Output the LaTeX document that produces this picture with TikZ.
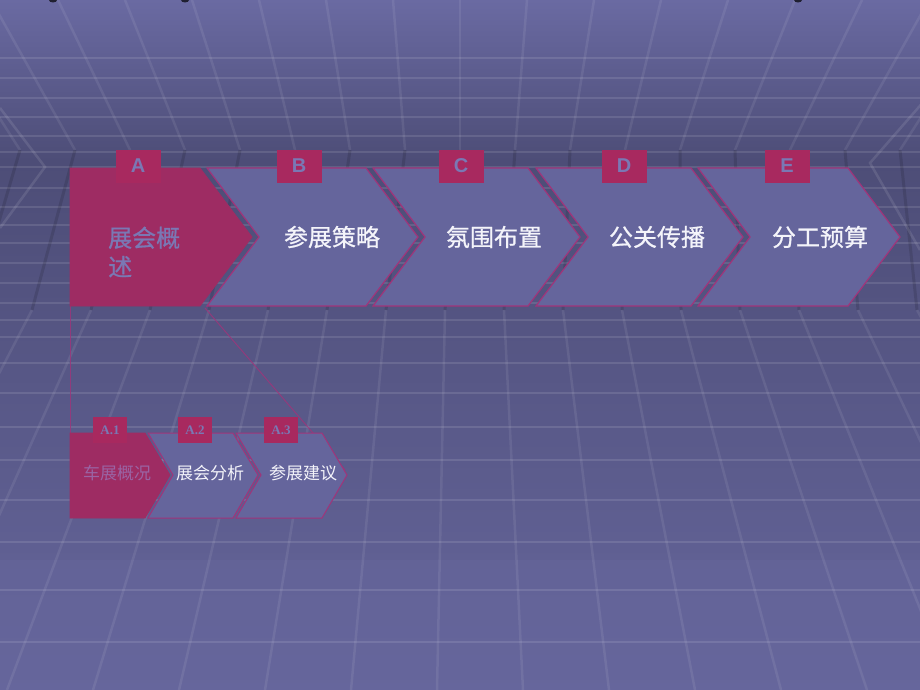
\documentclass[tikz,border=0pt]{standalone}
\usepackage{fontspec}
\setmainfont{Liberation Sans}
\newfontfamily\cjk{Noto Sans CJK SC}
\newfontfamily\cjkm[FakeBold=0.8]{Noto Sans CJK SC}
\newfontfamily\serifb{Liberation Serif}
\begin{document}
\begin{tikzpicture}[x=1pt,y=-1pt]
\definecolor{bgtop}{HTML}{6A6AA2}
\definecolor{bgmid}{HTML}{4D4D77}
\definecolor{bglow}{HTML}{66669C}
\definecolor{mag}{HTML}{9E2C63}
\definecolor{magbox}{HTML}{A8295F}
\definecolor{chevfill}{HTML}{65659C}
\definecolor{chevline}{HTML}{A0347A}
\definecolor{lav}{HTML}{7A78B4}
\definecolor{txtw}{HTML}{F4F4FA}
\definecolor{a1txt}{HTML}{9A64A4}
\tikzset{
  bigchev/.style={fill=chevfill,draw=chevline,line width=1.2pt,line join=miter},
  redchev/.style={fill=mag,draw=mag,line width=0.8pt},
  labbox/.style={fill=magbox,minimum width=45pt,minimum height=33pt,inner sep=0pt,
     text=lav,font=\bfseries\fontsize{20}{20}\selectfont},
  smallbox/.style={fill=magbox,minimum width=34pt,minimum height=26pt,inner sep=0pt,
     text=lav,font=\serifb\bfseries\fontsize{13}{13}\selectfont},
  bigtxt/.style={text=txtw,font=\cjkm\fontsize{24}{24}\selectfont,inner sep=0pt},
  smalltxt/.style={text=txtw,font=\cjk\fontsize{17}{17}\selectfont,inner sep=0pt},
  hline/.style={white,opacity=0.11,line width=1.6pt},
  vlight/.style={white,opacity=0.08,line width=2.5pt},
  vdark/.style={black,opacity=0.12,line width=3pt},
  callout/.style={chevline,line width=1pt,opacity=0.8}
}
\useasboundingbox (0,0) rectangle (920,690);
% background
\shade[top color=bgtop,bottom color=bgmid] (0,0) rectangle (920,160);
\shade[top color=bgmid,bottom color=bglow] (0,160) rectangle (920,690);
\fill[bglow,opacity=0.5] (0,560) rectangle (920,690);
% horizontal grid lines
\foreach \yy in {58,78,98,117,136,152,167,188,207,225,243,263,283,303,320,337,363,393,427,460,500,542,590,642}
  \draw[hline] (0,\yy) -- (920,\yy);
% converging grid lines
\foreach \n in {-8,...,8}{
  \draw[vlight] (460+67*\n,0) -- (460+55*\n,150);
  \draw[vdark] (460+55*\n,150) -- (445+59*\n,310);
  \draw[vlight] (445+59*\n,310) -- (437+86*\n,690);
}
% side wall chevrons
\draw[white,opacity=0.1,line width=2.5pt] (0,108) -- (45,167) -- (0,228);
\draw[white,opacity=0.1,line width=2.5pt] (925,100) -- (870,163) -- (920,250);
% small dark marks at top edge
\fill[black!70!bgtop] (53,0) ellipse (4 and 2.5);
\fill[black!70!bgtop] (185,0) ellipse (4 and 2.5);
\fill[black!70!bgtop] (798,0) ellipse (4 and 2.5);

% callout lines
\coordinate (cA1) at (70,306);
\coordinate (cA2) at (205,308);
\coordinate (cB1) at (70,433);
\coordinate (cB2) at (345,470);
\draw[callout] (cA1) -- (cB1);
\draw[callout] (cA2) -- (cB2);

% top chevrons
\draw[redchev] (70,168) -- (200,168) -- (252,237) -- (200,306) -- (70,306) -- cycle;
\draw[bigchev] (207,168) -- (366,168) -- (418,237) -- (366,306) -- (207,306) -- (259,237) -- cycle;
\draw[bigchev] (373,168) -- (528,168) -- (580,237) -- (528,306) -- (373,306) -- (425,237) -- cycle;
\draw[bigchev] (536,168) -- (691,168) -- (743,237) -- (691,306) -- (536,306) -- (588,237) -- cycle;
\draw[bigchev] (698,168) -- (848,168) -- (900,237) -- (848,306) -- (698,306) -- (750,237) -- cycle;

\node[labbox] (la) at (138,166) {A};
\node[labbox] (lb) at (299,166) {B};
\node[labbox] (lc) at (461,166) {C};
\node[labbox] (ld) at (624,166) {D};
\node[labbox] (le) at (787,166) {E};

\node[bigtxt,text=lav,anchor=west,align=left,font=\cjkm\fontsize{24}{29}\selectfont] (ta) at (108,252) {展会概\\述};
\node[bigtxt] (tb) at (332,237) {参展策略};
\node[bigtxt] (tc) at (494,237) {氛围布置};
\node[bigtxt] (td) at (657,237) {公关传播};
\node[bigtxt] (te) at (820,237) {分工预算};

% lower chevrons
\draw[redchev] (70,433) -- (145,433) -- (170,475) -- (145,518) -- (70,518) -- cycle;
\draw[bigchev,line width=1pt] (148,433) -- (233,433) -- (258,475) -- (233,518) -- (148,518) -- (173,475) -- cycle;
\draw[bigchev,line width=1pt] (236,433) -- (322,433) -- (347,475) -- (322,518) -- (236,518) -- (261,475) -- cycle;

\node[smallbox] (sa1) at (110,430) {A.1};
\node[smallbox] (sa2) at (195,430) {A.2};
\node[smallbox] (sa3) at (281,430) {A.3};

\node[smalltxt,text=a1txt] (t1) at (117,473) {车展概况};
\node[smalltxt] (t2) at (210,473) {展会分析};
\node[smalltxt] (t3) at (303,473) {参展建议};
\end{tikzpicture}
\end{document}
